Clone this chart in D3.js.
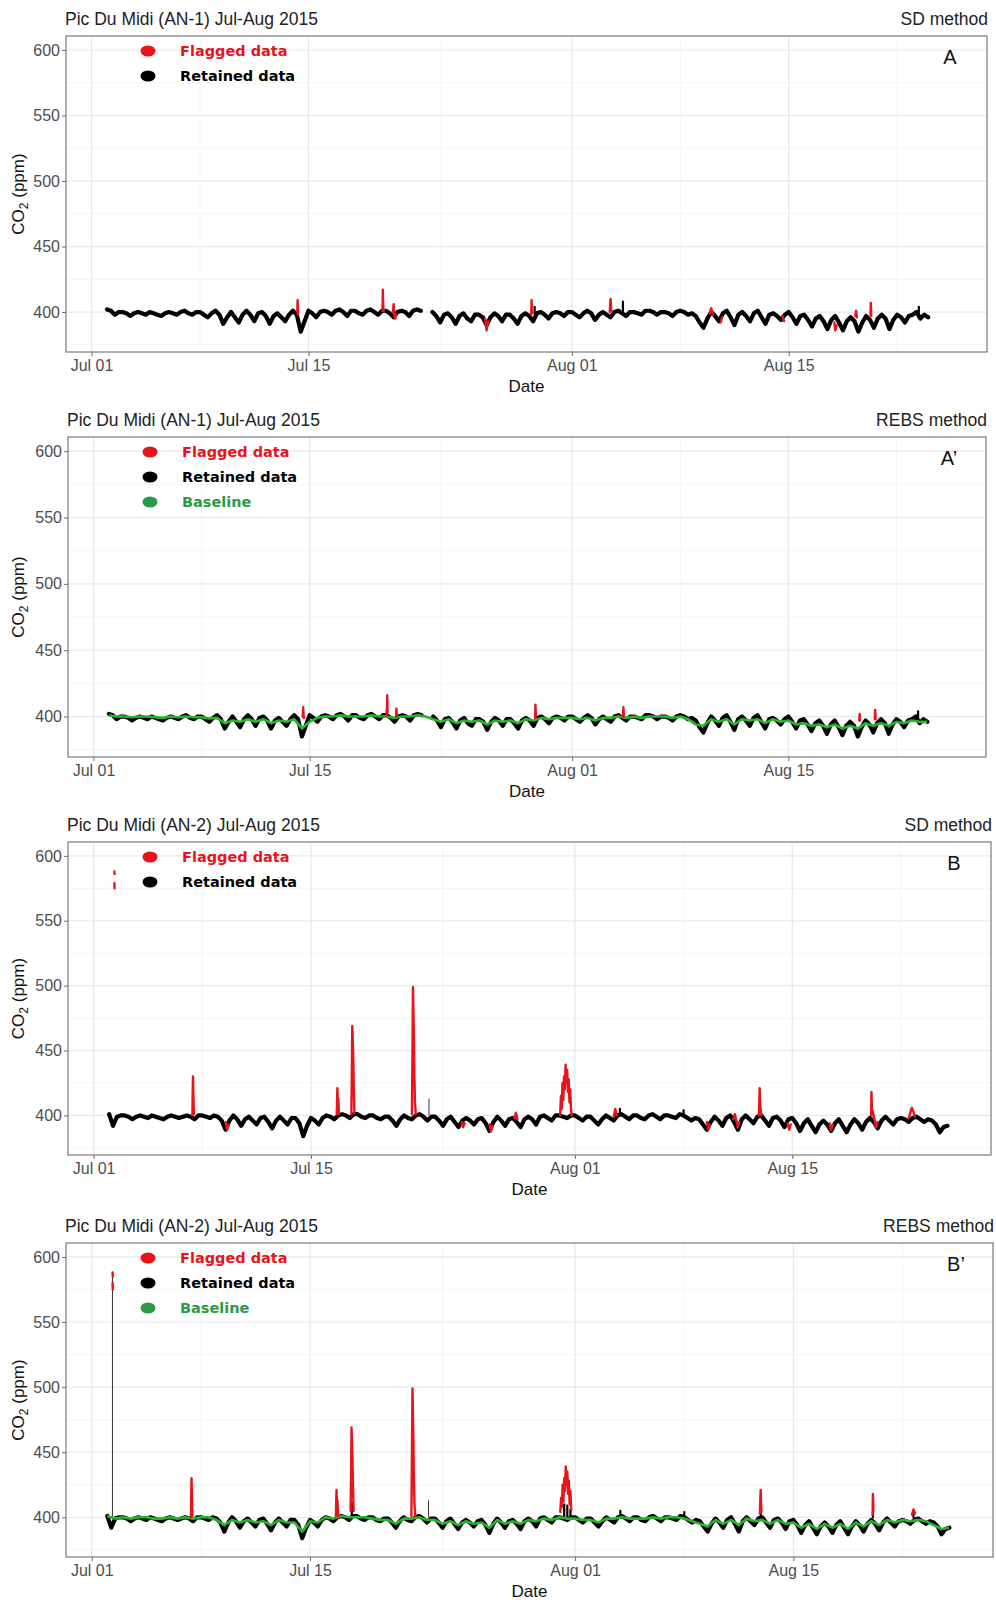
<!DOCTYPE html>
<html>
<head>
<meta charset="utf-8">
<script src="https://cdn.jsdelivr.net/npm/d3@7"></script>
<style>
  body { margin: 0; background: #fff; }
  svg { display: block; }
</style>
</head>
<body>
<svg id="chart" width="996" height="1600"></svg>
<script>
// ---------------------------------------------------------------
// CO2 at Pic du Midi, July-August 2015, two analyzers (AN-1, AN-2)
// Records stored every 6 h from Jul 02 00:00
// ---------------------------------------------------------------

// AN-1 retained data (ppm), 6-hourly from Jul 02 00:00; null = gap
const an1Retained = [
  402,401,398,400, 400,399,397,399, 400,399,398,400, 399,398,397,399, 400,399,398,400,
  401,399,398,400, 400,398,396,399, 401,398,391,396, 400,396,392,398, 401,398,393,399,
  400,397,391,397, 399,396,393,398, 401,398,385,393, 401,399,396,400, 401,400,398,401,
  402,400,397,401, 401,399,398,401, 402,400,398,401, 401,399,396,400, 401,400,397,401,
  402,401,null,null, 400,397,392,398, 399,396,391,397, 399,395,393,398, 398,396,390,396,
  399,397,393,398, 398,395,391,397, 399,397,393,399, 400,398,395,399, 400,399,397,400,
  400,398,396,399, 401,399,394,398, 400,398,396,400, 401,399,397,400, 400,399,398,401,
  401,400,398,400, 400,399,397,400, 401,400,398,399, 397,392,388,395, 400,397,393,399,
  401,396,390,398, 400,397,393,399, 401,396,391,398, 399,397,394,398, 400,396,391,397,
  398,394,389,395, 397,393,387,394, 397,392,386,393, 396,393,385,392, 397,394,388,395,
  398,395,387,394, 398,396,392,397, 398,400,395,398, 396
];

// AN-2 retained data (ppm), 6-hourly from Jul 02 00:00
const an2Retained = [
  401,392,399,400, 400,399,397,399, 400,399,398,400, 399,398,397,399, 400,399,398,399,
  400,399,397,400, 400,399,398,400, 399,396,389,396, 400,397,392,397, 399,396,393,398,
  399,395,390,396, 399,396,393,398, 398,394,384,392, 398,396,393,398, 400,399,397,400,
  401,400,398,401, 401,399,398,400, 400,398,397,399, 399,396,392,397, 400,398,397,400,
  401,399,396,399, 399,396,392,397, 399,395,391,396, 398,396,393,397, 398,394,388,395,
  399,396,392,397, 398,395,391,397, 399,397,393,399, 400,398,396,400, 400,399,398,400,
  400,398,396,399, 399,396,393,397, 400,398,396,400, 401,399,397,400, 400,398,397,400,
  401,399,397,400, 400,399,398,401, 400,398,396,398, 397,393,389,395, 399,396,392,398,
  400,395,389,397, 400,397,394,399, 400,396,392,398, 399,396,391,397, 398,394,388,394,
  397,392,387,393, 396,393,388,394, 397,392,387,393, 397,394,389,395, 398,395,390,396,
  399,396,393,397, 398,397,395,398, 399,397,395,397, 396,393,387,391, 392
];

// REBS baselines (ppm), 12-hourly from Jul 02 00:00
const an1Baseline = [
  401,400, 400,399.5, 400,400, 399.5,399, 400,399.5, 400,399.5, 399.5,398.5, 399,395, 397,396, 398,396,
  398,395, 397,396, 398,391, 396,399, 400,400, 401,400, 400,400, 401,400, 400,399, 400,400,
  401,400, 398,396, 398,395, 397,396, 397,394, 397,396, 397,395, 398,397, 399,398, 399,399,
  399,398, 399,397, 399,399, 400,399, 400,399, 400,400, 400,399, 400,398, 394,393, 398,396,
  398,394, 398,397, 398,395, 398,396, 397,394, 395,393, 394,392, 394,391, 393,391, 395,393,
  395,393, 396,395, 397,396, 396
];
const an2Baseline = [
  401,399, 400,399, 400,400, 399,399, 400,399, 400,399, 400,400, 398,394, 398,396, 398,396,
  397,394, 398,396, 396,389, 397,396, 400,399, 401,400, 400,400, 399,398, 398,395, 399,399,
  400,398, 398,395, 397,394, 397,395, 396,392, 398,395, 397,395, 398,397, 399,398, 400,399,
  399,398, 398,396, 399,399, 400,399, 399,399, 400,399, 400,400, 399,397, 395,393, 398,395,
  398,394, 399,397, 398,395, 398,395, 396,392, 395,391, 395,392, 395,391, 396,393, 397,394,
  398,396, 398,397, 398,397, 394,391, 392
];

// Flagged events: [days after Jul 01, ppm]
const flaggedA = [
  [[13.28,400],[13.30,409],[13.33,398]],
  [[18.78,401],[18.80,417],[18.83,404],[18.86,401]],
  [[19.45,400],[19.50,406],[19.55,397],[19.60,395],[19.65,398]],
  [[25.40,395],[25.50,386],[25.60,393]],
  [[28.38,398],[28.40,409],[28.43,399]],
  [[33.45,400],[33.50,410],[33.55,401]],
  [[39.90,399],[40.00,403],[40.10,398]],
  [[40.60,392],[40.70,396]],
  [[44.60,397],[44.70,393]],
  [[47.95,392],[48.00,386],[48.10,390]],
  [[49.30,397],[49.35,401],[49.40,396]],
  [[50.28,398],[50.30,407],[50.33,397]]
];
const flaggedA2 = [
  [[13.55,400],[13.58,407],[13.62,399]],
  [[19.00,401],[19.02,416],[19.05,403]],
  [[19.60,400],[19.62,406],[19.65,400]],
  [[28.60,399],[28.62,409],[28.65,400]],
  [[34.30,400],[34.32,407],[34.35,400]],
  [[49.60,397],[49.62,402],[49.65,397]],
  [[50.60,398],[50.62,405],[50.65,398]]
];
const flaggedB = [
  [[1.34,588],[1.35,586]],
  [[1.34,579],[1.35,575]],
  [[6.36,400],[6.40,430],[6.43,415],[6.46,401]],
  [[8.50,395],[8.60,389],[8.70,393]],
  [[15.66,401],[15.70,421],[15.73,410],[15.76,413],[15.80,401]],
  [[16.60,401],[16.63,430],[16.66,469],[16.70,455],[16.73,440],[16.76,420],[16.80,402]],
  [[20.50,401],[20.53,440],[20.57,499],[20.60,480],[20.63,460],[20.66,430],[20.70,410],[20.75,401]],
  [[23.70,395],[23.80,391],[23.90,394]],
  [[25.50,393],[25.60,388],[25.70,392]],
  [[27.10,398],[27.20,402],[27.30,397]],
  [[30.05,400],[30.10,415],[30.15,405],[30.20,425],[30.25,412],[30.30,430],[30.35,420],[30.40,439],
   [30.45,425],[30.50,435],[30.55,418],[30.60,428],[30.65,410],[30.70,420],[30.75,404],[30.80,400]],
  [[33.50,399],[33.60,405],[33.70,400]],
  [[39.50,395],[39.60,389],[39.70,393]],
  [[41.20,397],[41.30,401],[41.40,396],[41.50,391],[41.60,395]],
  [[42.85,400],[42.90,421],[42.93,410],[42.96,405],[43.00,400]],
  [[44.70,394],[44.80,389],[44.90,393]],
  [[47.40,394],[47.50,389],[47.60,393]],
  [[50.08,400],[50.10,418],[50.13,405],[50.20,402],[50.30,396],[50.40,391],[50.50,395]],
  [[52.50,398],[52.60,402],[52.70,406],[52.80,403],[52.90,399]]
];
const flaggedB2 = [
  [[1.34,588],[1.35,585]],
  [[1.34,580],[1.35,575]],
  [[6.36,400],[6.40,430],[6.43,415],[6.46,401]],
  [[15.66,401],[15.70,421],[15.73,410],[15.76,413],[15.80,401]],
  [[16.60,405],[16.63,430],[16.66,469],[16.70,455],[16.73,440],[16.76,420],[16.80,405]],
  [[20.50,401],[20.53,440],[20.57,499],[20.60,480],[20.63,460],[20.66,430],[20.70,410],[20.75,401]],
  [[30.05,404],[30.10,415],[30.15,408],[30.20,425],[30.25,412],[30.30,430],[30.35,420],[30.40,439],
   [30.45,425],[30.50,435],[30.55,418],[30.60,428],[30.65,410],[30.70,420],[30.75,406]],
  [[42.85,403],[42.90,421],[42.93,410],[42.96,405]],
  [[50.08,402],[50.10,418],[50.13,405]],
  [[52.60,402],[52.70,406],[52.80,403]]
];

// Short retained excursions: [days after Jul 01, from ppm, to ppm]
const peaksA = [[28.6,398,404],[34.3,400,408],[53.4,398,404]];
const peaksA2 = [[19.0,400,405],[34.3,400,404],[53.4,398,404]];
const peaksB = [[33.9,400,405],[38.0,400,404]];
const peaksB2 = [[16.68,400,411],[30.3,400,410],[30.5,400,409],[30.7,400,406],
                 [42.9,400,404],[50.1,400,404],[52.7,400,405],[33.9,400,405],[38.0,400,404]];
const thinB = [[21.6,400,413]];
const thinB2 = [[1.33,400,588],[21.6,400,413]];

// Axis ticks
const yTicks = [400, 450, 500, 550, 600];
const yMinor = [375, 425, 475, 525, 575];
const xTickDays = [0, 14, 31, 45];
const xTickLabels = ["Jul 01", "Jul 15", "Aug 01", "Aug 15"];
const xMinorDays = [7, 22.5, 38, 52];

// ---------------------------------------------------------------
const DAY = 864e5;
const jul1 = Date.UTC(2015, 6, 1);
const toDate = d => new Date(jul1 + d * DAY);
const xDomain = [toDate(-1.65), toDate(57.8)];
const yDomain = [369.5, 610.7];

const RED = "#e8141c", BLACK = "#000", GREEN = "#27b42c";
const LEGEND_GREEN = "#2a9a48";
const FONT = "'Liberation Sans', Arial, sans-serif";
const LEGEND_FONT = "'DejaVu Sans', Verdana, sans-serif";

const series = (vals, startDay, step) =>
  vals.map((v, i) => ({ t: toDate(startDay + i * step), v }));

const panels = [
  { title: "Pic Du Midi (AN-1) Jul-Aug 2015", method: "SD method", tag: "A",
    left: 66, right: 987, top: 36, bottom: 352,
    retained: an1Retained, baseline: null, flagged: flaggedA, peaks: peaksA, thin: [] },
  { title: "Pic Du Midi (AN-1) Jul-Aug 2015", method: "REBS method", tag: "A\u2019",
    left: 68, right: 986, top: 437, bottom: 757,
    retained: an1Retained, baseline: an1Baseline, flagged: flaggedA2, peaks: peaksA2, thin: [] },
  { title: "Pic Du Midi (AN-2) Jul-Aug 2015", method: "SD method", tag: "B",
    left: 68, right: 991, top: 842, bottom: 1155,
    retained: an2Retained, baseline: null, flagged: flaggedB, peaks: peaksB, thin: thinB },
  { title: "Pic Du Midi (AN-2) Jul-Aug 2015", method: "REBS method", tag: "B\u2019",
    left: 66, right: 993, top: 1243, bottom: 1557,
    retained: an2Retained, baseline: an2Baseline, flagged: flaggedB2, peaks: peaksB2, thin: thinB2 }
];

const svg = d3.select("#chart");

panels.forEach((p, idx) => {
  const g = svg.append("g");
  const x = d3.scaleUtc().domain(xDomain).range([p.left, p.right]);
  const y = d3.scaleLinear().domain(yDomain).range([p.bottom, p.top]);

  const clipId = "clip" + idx;
  g.append("clipPath").attr("id", clipId)
    .append("rect").attr("x", p.left).attr("y", p.top)
    .attr("width", p.right - p.left).attr("height", p.bottom - p.top);

  // grid
  const grid = g.append("g");
  yMinor.forEach(v => grid.append("line")
    .attr("x1", p.left).attr("x2", p.right).attr("y1", y(v)).attr("y2", y(v))
    .attr("stroke", "#f3f3f3").attr("stroke-width", 0.8));
  xMinorDays.forEach(d => grid.append("line")
    .attr("x1", x(toDate(d))).attr("x2", x(toDate(d))).attr("y1", p.top).attr("y2", p.bottom)
    .attr("stroke", "#f3f3f3").attr("stroke-width", 0.8));
  yTicks.forEach(v => grid.append("line")
    .attr("x1", p.left).attr("x2", p.right).attr("y1", y(v)).attr("y2", y(v))
    .attr("stroke", "#e8e8e8").attr("stroke-width", 1.2));
  xTickDays.forEach(d => grid.append("line")
    .attr("x1", x(toDate(d))).attr("x2", x(toDate(d))).attr("y1", p.top).attr("y2", p.bottom)
    .attr("stroke", "#e8e8e8").attr("stroke-width", 1.2));

  const plot = g.append("g").attr("clip-path", `url(#${clipId})`);

  const line = d3.line().defined(d => d.v != null).x(d => x(d.t)).y(d => y(d.v));

  // retained data
  plot.append("path")
    .datum(series(p.retained, 1, 0.25))
    .attr("d", line)
    .attr("fill", "none").attr("stroke", BLACK)
    .attr("stroke-width", 4.2).attr("stroke-linejoin", "round").attr("stroke-linecap", "round");

  p.peaks.forEach(([d, a, b]) => plot.append("line")
    .attr("x1", x(toDate(d))).attr("x2", x(toDate(d))).attr("y1", y(a)).attr("y2", y(b))
    .attr("stroke", BLACK).attr("stroke-width", 2.2).attr("stroke-linecap", "round"));
  p.thin.forEach(([d, a, b]) => plot.append("line")
    .attr("x1", x(toDate(d))).attr("x2", x(toDate(d))).attr("y1", y(a)).attr("y2", y(b))
    .attr("stroke", "#333").attr("stroke-width", 1));

  // baseline
  if (p.baseline) {
    plot.append("path")
      .datum(series(p.baseline, 1, 0.5))
      .attr("d", line)
      .attr("fill", "none").attr("stroke", GREEN)
      .attr("stroke-width", 2.6).attr("stroke-linejoin", "round");
  }

  // flagged data
  p.flagged.forEach(ev => plot.append("path")
    .datum(ev.map(([d, v]) => ({ t: toDate(d), v })))
    .attr("d", line)
    .attr("fill", "none").attr("stroke", RED)
    .attr("stroke-width", 2.4).attr("stroke-linejoin", "round").attr("stroke-linecap", "round"));

  // panel border
  g.append("rect")
    .attr("x", p.left).attr("y", p.top)
    .attr("width", p.right - p.left).attr("height", p.bottom - p.top)
    .attr("fill", "none").attr("stroke", "#6e6e6e").attr("stroke-width", 1.1);

  // axes
  const styleAxis = s => {
    s.select(".domain").remove();
    s.attr("font-family", FONT).attr("font-size", 16);
    s.selectAll("line").attr("stroke", "#6e6e6e");
    s.selectAll("text").attr("fill", "#4d4d4d");
  };
  g.append("g").attr("transform", `translate(${p.left},0)`)
    .call(d3.axisLeft(y).tickValues(yTicks).tickSize(4).tickPadding(2))
    .call(styleAxis);
  g.append("g").attr("transform", `translate(0,${p.bottom})`)
    .call(d3.axisBottom(x).tickValues(xTickDays.map(toDate)).tickSize(4).tickPadding(3.5)
      .tickFormat((d, i) => xTickLabels[i]))
    .call(styleAxis);

  // titles
  g.append("text").attr("x", p.left - 1).attr("y", p.top - 11)
    .attr("font-family", FONT).attr("font-size", 17.5).attr("fill", "#222")
    .text(p.title);
  g.append("text").attr("x", p.right + 1).attr("y", p.top - 11)
    .attr("text-anchor", "end")
    .attr("font-family", FONT).attr("font-size", 17.5).attr("fill", "#222")
    .text(p.method);

  // axis titles
  g.append("text").attr("x", (p.left + p.right) / 2).attr("y", p.bottom + 40)
    .attr("text-anchor", "middle")
    .attr("font-family", FONT).attr("font-size", 17).attr("fill", "#111")
    .text("Date");
  const yl = g.append("text")
    .attr("transform", `translate(24,${(p.top + p.bottom) / 2}) rotate(-90)`)
    .attr("text-anchor", "middle")
    .attr("font-family", FONT).attr("font-size", 17).attr("fill", "#111");
  yl.append("tspan").text("CO");
  yl.append("tspan").attr("font-size", 12).attr("dy", 4).text("2");
  yl.append("tspan").attr("dy", -4).text(" (ppm)");

  // panel tag
  g.append("text").attr("x", p.right - 37).attr("y", p.top + 28)
    .attr("text-anchor", "middle")
    .attr("font-family", FONT).attr("font-size", 20).attr("fill", "#111")
    .text(p.tag);

  // legend
  const legend = [["Flagged data", RED, RED], ["Retained data", BLACK, BLACK]];
  if (p.baseline) legend.push(["Baseline", LEGEND_GREEN, LEGEND_GREEN]);
  legend.forEach(([label, dot, txt], i) => {
    const cy = p.top + 15 + i * 25;
    g.append("ellipse").attr("cx", p.left + 82).attr("cy", cy)
      .attr("rx", 7.5).attr("ry", 5.5).attr("fill", dot);
    g.append("text").attr("x", p.left + 114).attr("y", cy + 5)
      .attr("font-family", LEGEND_FONT).attr("font-weight", "bold").attr("font-size", 14.5)
      .attr("fill", txt).text(label);
  });
});
</script>
</body>
</html>
